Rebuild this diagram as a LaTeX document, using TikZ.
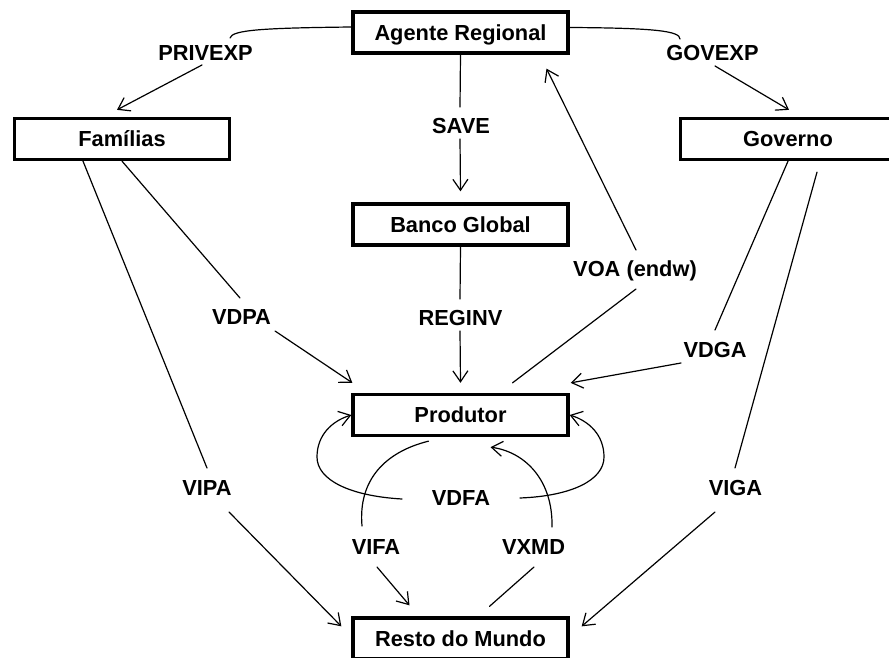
\documentclass[tikz,border=0pt]{standalone}
\usepackage{fontspec}
\setmainfont{Liberation Sans}
\usetikzlibrary{arrows.meta,calc}
\begin{document}
\begin{tikzpicture}[x=1pt,y=-1pt,
  txt/.style={font=\fontsize{21.8pt}{26pt}\selectfont\bfseries, text height=15.6pt, text depth=0pt},
  box/.style={txt, draw, line width=3.3pt, minimum width=215pt, minimum height=41pt, inner sep=0pt},
  lbl/.style={txt, inner sep=0pt},
  conn/.style={line width=1.2pt, line cap=round},
  arr/.style={conn, -{Straight Barb[length=11pt,width=15pt]}}]
\useasboundingbox (0,0) rectangle (889,658);
\begin{scope}
\clip (0,0) rectangle (889,658);
% boxes
\node[box] (ag)   at (460.5,32.5)  {Agente Regional};
\node[box] (fam)  at (122,139)   {Famílias};
\node[box] (gov)  at (788,139)   {Governo};
\node[box] (bg)   at (460.5,224.5) {Banco Global};
\node[box] (prod) at (460.5,415)   {Produtor};
\node[box] (rdm)  at (460.5,638.5) {Resto do Mundo};
% labels
\node[lbl] (privexp) at (205.5,52.5) {PRIVEXP};
\node[lbl] (govexp)  at (712.5,52.5) {GOVEXP};
\node[lbl] (save)    at (461,125.5)  {SAVE};
\node[lbl] (reginv)  at (460.5,317.5) {REGINV};
\node[lbl] (vdpa)    at (241.5,317)  {VDPA};
\node[lbl] (voa)     at (635,268.7)  {VOA (endw)};
\node[lbl] (vdga)    at (715,349.5)  {VDGA};
\node[lbl] (vipa)    at (207,488)    {VIPA};
\node[lbl] (viga)    at (735.5,488)  {VIGA};
\node[lbl] (vdfa)    at (461,498)    {VDFA};
\node[lbl] (vifa)    at (376,547)    {VIFA};
\node[lbl] (vxmd)    at (533.5,547)  {VXMD};
% label ends of connectors
\coordinate (p1) at (230,38);   \coordinate (p2) at (202,65);
\coordinate (g1) at (680,39);   \coordinate (g2) at (715,66);
\coordinate (s1) at (460,107);  \coordinate (s2) at (460,139);
\coordinate (r1) at (460,299);  \coordinate (r2) at (460,331);
\coordinate (d1) at (240,298);  \coordinate (d2) at (275,331);
\coordinate (i1) at (207,468);  \coordinate (i2) at (229,512);
\coordinate (o1) at (636,289);  \coordinate (o2) at (636,250);
\coordinate (v1) at (715,330);  \coordinate (v2) at (681,363);
\coordinate (a1) at (735,468);  \coordinate (a2) at (715,512);
\coordinate (f1) at (362,526);  \coordinate (f2) at (377,567);
\coordinate (x1) at (534,567);  \coordinate (x2) at (552,527);
\coordinate (l1) at (402,499);  \coordinate (l2) at (520,498);
% PRIVEXP
\draw[conn] ([yshift=5.5pt]ag.west) .. controls (262,28) and (232,30) .. (p1);
\draw[arr] (p2) -- ([xshift=-5pt,yshift=7pt]fam.north);
% GOVEXP
\draw[conn] ([yshift=5pt]ag.east) .. controls (655,28) and (680,31) .. (g1);
\draw[arr] (g2) -- ([xshift=1pt,yshift=7pt]gov.north);
% SAVE
\draw[conn] (ag.south) -- (s1);
\draw[arr] (s2) -- ([yshift=11pt]bg.north);
% REGINV
\draw[conn] (bg.south) -- (r1);
\draw[arr] (r2) -- ([yshift=10pt]prod.north);
% VDPA
\draw[conn] (fam.south) -- (d1);
\draw[arr] (d2) -- ([xshift=1pt,yshift=10pt]prod.north west);
% VIPA
\draw[conn] ([xshift=-39pt]fam.south) -- (i1);
\draw[arr] (i2) -- ([xshift=-10pt,yshift=-10pt]rdm.north west);
% VOA (endw)
\draw[conn] ([xshift=52pt,yshift=10pt]prod.north) -- (o1);
\draw[arr] (o2) -- ([xshift=86pt,yshift=-14pt]ag.south);
% VDGA
\draw[conn] (gov.south) -- (v1);
\draw[arr] (v2) -- ([xshift=1pt,yshift=10pt]prod.north east);
% VIGA
\draw[conn] ([xshift=29pt,yshift=-11pt]gov.south) -- (a1);
\draw[arr] (a2) -- ([xshift=12pt,yshift=-10pt]rdm.north east);
% VIFA
\draw[conn] ([xshift=-32pt,yshift=-4pt]prod.south) .. controls (385,452) and (358,480) .. (f1);
\draw[arr] (f2) -- ([xshift=-51pt,yshift=11pt]rdm.north);
% VXMD
\draw[conn] ([xshift=29pt,yshift=10pt]rdm.north) -- (x1);
\draw[arr] (x2) .. controls (553,480) and (525,452) .. ([xshift=30pt,yshift=-10pt]prod.south);
% VDFA
\draw[arr] (l1) .. controls (350,496) and (317,480) .. (317,457) .. controls (317,435) and (332,421) .. (prod.west);
\draw[arr] (l2) .. controls (572,496) and (604,480) .. (604,457) .. controls (604,435) and (589,421) .. (prod.east);
\end{scope}
\end{tikzpicture}
\end{document}
